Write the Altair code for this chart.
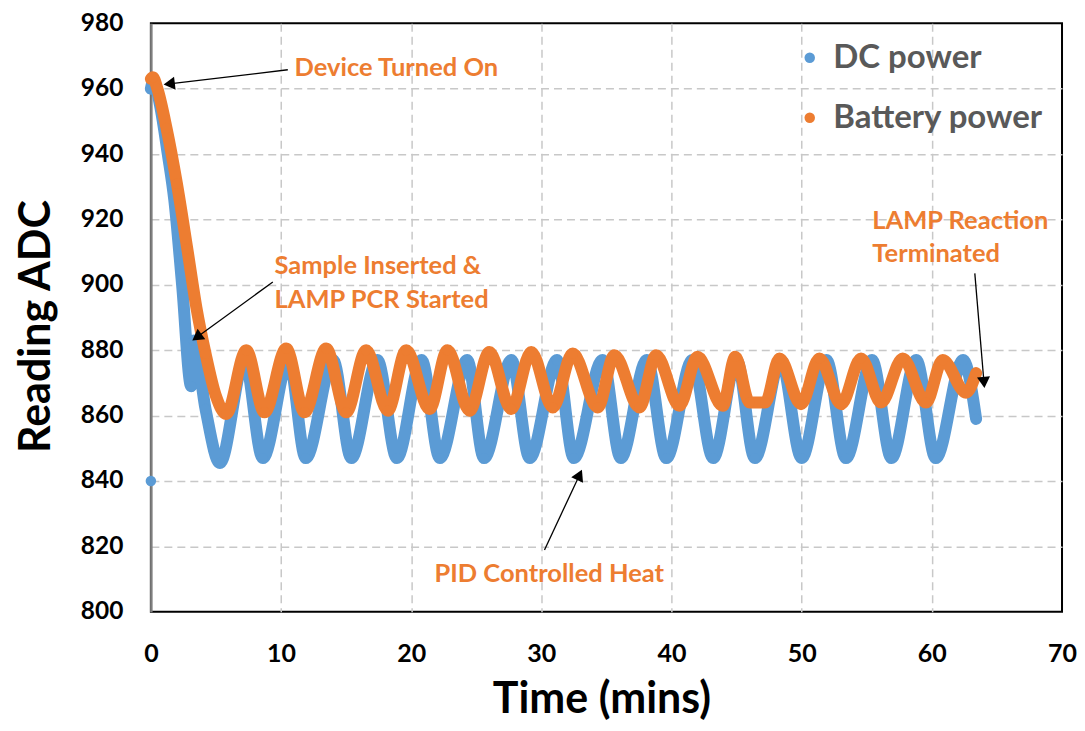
import altair as alt
import pandas as pd
import numpy as np

# ---------------- data ----------------
SERIES = ["DC power", "Battery power"]
COLORS = ["#5B9BD5", "#ED7D31"]

dc_time = [0.0, 0.2, 0.7, 1.3, 1.8, 2.4, 3.1, 3.3, 4.2, 5.3,
           7.2, 8.6, 10.6, 11.9, 14.0, 15.4, 17.4, 18.9, 20.8, 22.2,
           24.3, 25.6, 27.7, 29.1, 31.2, 32.5, 34.7, 36.1, 38.1, 39.6,
           41.6, 43.2, 45.0, 46.4, 48.4, 50.0, 51.9, 53.4, 55.4, 56.9,
           58.8, 60.3, 62.4, 63.4]
dc_adc = [960.0, 962.5, 955.0, 940.0, 926.0, 900.0, 869.0, 883.0, 862.0, 845.5,
          877.0, 847.0, 877.0, 847.0, 877.0, 847.0, 877.0, 847.0, 877.0, 847.0,
          877.0, 847.0, 877.0, 847.0, 877.0, 847.0, 877.0, 847.0, 877.0, 847.0,
          877.0, 847.0, 877.0, 847.0, 877.0, 847.0, 877.0, 847.0, 877.0, 847.0,
          877.0, 847.0, 877.0, 859.0]

bat_time = [0.0, 0.15, 0.5, 1.2, 2.0, 2.8, 3.5, 4.2, 5.0, 5.79,
            7.33, 8.73, 10.40, 11.81, 13.47, 15.01, 16.54, 18.20, 19.62, 21.41,
            22.79, 24.48, 26.01, 27.68, 29.22, 30.88, 32.41, 34.33, 35.61, 37.53,
            38.82, 40.61, 41.99, 43.93, 44.9, 46.0, 47.2, 48.29, 49.95, 51.36,
            53.03, 54.56, 56.10, 57.76, 59.55, 60.83, 62.63, 63.40]
bat_adc = [963.0, 963.5, 960.0, 948.0, 931.0, 911.0, 893.0, 879.0, 866.0, 860.5,
           880.0, 861.0, 880.5, 861.0, 880.5, 861.0, 880.0, 861.5, 880.0, 862.0,
           880.0, 861.5, 879.5, 862.0, 879.5, 862.5, 879.0, 862.5, 878.5, 862.5,
           878.5, 863.0, 878.0, 863.0, 878.0, 864.0, 864.0, 877.5, 863.5, 877.5,
           863.5, 877.5, 864.0, 877.5, 864.0, 877.0, 867.0, 873.0]

dc_outlier_time = [0.0]
dc_outlier_adc = [840.0]

x_ticks = [0, 10, 20, 30, 40, 50, 60, 70]
y_ticks = [800, 820, 840, 860, 880, 900, 920, 940, 960, 980]

ann_lines = ["Device Turned On", "Sample Inserted &", "LAMP PCR Started",
             "LAMP Reaction", "Terminated", "PID Controlled Heat"]
ann_time = [11.04, 9.5, 9.5, 55.43, 55.43, 21.79]
ann_adc = [964.0, 903.2, 893.0, 917.1, 907.0, 809.2]

arrow_tail_time = [10.52, 9.37, 63.3, 30.24]
arrow_tail_adc = [965.8, 900.9, 903.5, 818.9]
arrow_tip_time = [0.877, 3.10, 64.05, 33.16]
arrow_tip_adc = [961.2, 882.7, 868.0, 843.8]

# ---------------- layout ----------------
W, H = 912, 589
XMIN, XMAX, YMIN, YMAX = 0, 70, 800, 980
FONT = "Lato"

dc_df = pd.DataFrame({"t": dc_time, "v": dc_adc, "series": SERIES[0]})
bat_df = pd.DataFrame({"t": bat_time, "v": bat_adc, "series": SERIES[1]})
out_df = pd.DataFrame({"t": dc_outlier_time, "v": dc_outlier_adc, "series": SERIES[0]})
ann_df = pd.DataFrame({"t": ann_time, "v": ann_adc, "label": ann_lines})

# arrows: line ends at the centre of the head, head rotated along the line
sx = W / (XMAX - XMIN)
sy = H / (YMAX - YMIN)
tt = np.array(arrow_tail_time); tv = np.array(arrow_tail_adc)
pt = np.array(arrow_tip_time); pv = np.array(arrow_tip_adc)
dx = (pt - tt) * sx
dy = -(pv - tv) * sy
L = np.hypot(dx, dy)
ux, uy = dx / L, dy / L
back = 7.0
head_t = pt - back * ux / sx
head_v = pv + back * uy / sy
ang = (np.degrees(np.arctan2(ux, -uy)) + 360) % 360
arrow_df = pd.DataFrame({"t": tt, "v": tv, "t1": head_t, "v1": head_v, "ang": ang})
head_df = pd.DataFrame({"t": head_t, "v": head_v, "ang": ang})

xs = alt.Scale(domain=[XMIN, XMAX], nice=False, zero=False)
ys = alt.Scale(domain=[YMIN, YMAX], nice=False, zero=False)
cs = alt.Scale(domain=SERIES, range=COLORS)

x_axis = alt.Axis(values=x_ticks, title="Time (mins)", labelPadding=30, labelFlush=False,
                  labelFontSize=25,
                  titleX=451, titleY=101, titleBaseline="alphabetic", titleAlign="center",
                  gridOpacity={"condition": {"test": f"datum.value <= {XMIN} || datum.value >= {XMAX}",
                                             "value": 0}, "value": 1})
y_axis = alt.Axis(values=y_ticks, title="Reading ADC", labelPadding=28, labelFlush=False,
                  labelFontSize=24.5,
                  titleX=-101, titleY=303, titleAngle=270, titleBaseline="alphabetic",
                  titleAlign="center", domain=True, domainColor="#7F7F7F", domainWidth=2.5,
                  gridOpacity={"condition": {"test": f"datum.value <= {YMIN} || datum.value >= {YMAX}",
                                             "value": 0}, "value": 1})
legend = alt.Legend(title=None, orient="none", legendX=643, legendY=18,
                    symbolType="circle", symbolSize=110, labelFontSize=33,
                    labelFont=FONT, labelFontWeight="bold", labelColor="#595959",
                    labelOffset=7, rowPadding=26, padding=0, symbolStrokeWidth=0,
                    labelLimit=400)

X = alt.X("t:Q", scale=xs, axis=x_axis)
Y = alt.Y("v:Q", scale=ys, axis=y_axis)
C = alt.Color("series:N", scale=cs, legend=legend)

line_kw = dict(strokeWidth=12, strokeCap="round", strokeJoin="round", interpolate="monotone")

dc_line = alt.Chart(dc_df).mark_line(**line_kw).encode(x=X, y=Y, order="t:Q", color=C)
dc_pts = alt.Chart(dc_df).mark_circle(size=110, opacity=1).encode(x=X, y=Y, color=C)
dc_out = alt.Chart(out_df).mark_circle(size=110, opacity=1).encode(x=X, y=Y, color=C)
bat_line = alt.Chart(bat_df).mark_line(**line_kw).encode(x=X, y=Y, order="t:Q", color=C)
bat_pts = alt.Chart(bat_df).mark_circle(size=110, opacity=1).encode(x=X, y=Y, color=C)

arrows = alt.Chart(arrow_df).mark_rule(color="black", strokeWidth=1.3).encode(
    x=X, y=Y, x2="t1:Q", y2="v1:Q")
heads = alt.Chart(head_df).mark_point(shape="triangle-up", filled=True, color="black",
                                      opacity=1, size=170).encode(
    x=X, y=Y, angle=alt.Angle("ang:Q", scale=None))

texts = alt.Chart(ann_df).mark_text(align="left", baseline="alphabetic", font=FONT,
                                    fontWeight="bold", fontSize=25.5, color="#ED7D31").encode(
    x=X, y=Y, text="label:N")

chart = alt.layer(dc_line, dc_pts, dc_out, bat_line, bat_pts, arrows, heads, texts).properties(
    width=W, height=H,
    padding={"left": 143, "top": 15, "right": 15, "bottom": 114},
    autosize=alt.AutoSizeParams(type="none"),
).configure_view(stroke="black", strokeWidth=2).configure_axis(
    labelFont=FONT, labelFontWeight="bold", labelColor="black",
    titleFont=FONT, titleFontWeight="bold", titleFontSize=43, titleColor="black",
    grid=True, gridColor="#C8C8C8", gridDash=[8, 5], gridWidth=1.5,
    domain=False, ticks=False, tickSize=0,
)

chart.save("out.html", embed_options={"renderer": "svg", "actions": False})
